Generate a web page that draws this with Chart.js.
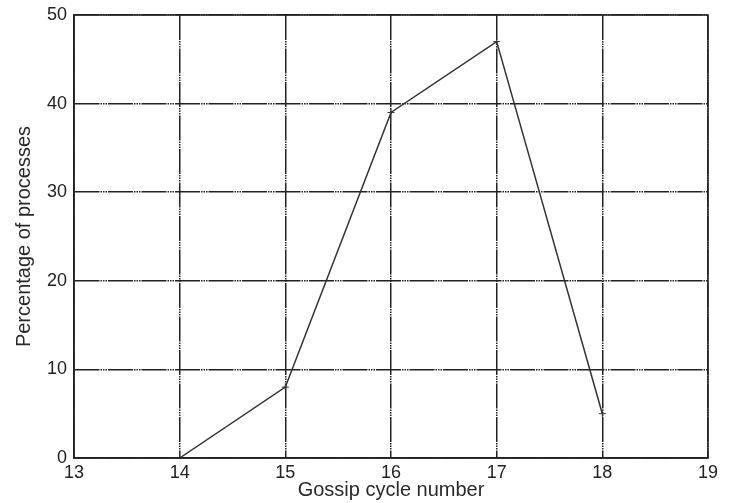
<!DOCTYPE html>
<html>
<head>
<meta charset="utf-8">
<script src="https://cdn.jsdelivr.net/npm/chart.js@4"></script>
<style>
  html, body { margin: 0; padding: 0; background: #fff; }
  #wrap { width: 731px; height: 503px; }
</style>
</head>
<body>
<div id="wrap"><canvas id="chart" width="731" height="503"></canvas></div>
<script>
// Data
const cycles = [14, 15, 16, 17, 18];
const percentages = [0, 8, 39, 47, 5];
const xTicks = [13, 14, 15, 16, 17, 18, 19];
const yTicks = [0, 10, 20, 30, 40, 50];

const inkColor = '#222';
const dashDot = [25, 1, 1.5, 1, 1.5, 1, 1.5, 1];

// Solid frame round the plot area (top and right edges are solid in the original)
const framePlugin = {
    id: 'frame',
    afterDraw(chart) {
        const { ctx, chartArea: a } = chart;
        ctx.save();
        ctx.strokeStyle = inkColor;
        ctx.lineWidth = 1.5;
        ctx.setLineDash([]);
        ctx.strokeRect(a.left, a.top, a.right - a.left, a.bottom - a.top);
        ctx.restore();
    }
};

const ctx = document.getElementById('chart');
new Chart(ctx, {
    type: 'scatter',
    data: {
        datasets: [{
            data: cycles.map((c, i) => ({ x: c, y: percentages[i] })),
            showLine: true,
            borderColor: '#333',
            borderWidth: 1.5,
            pointStyle: 'cross',
            pointRadius: 3.5,
            pointBorderWidth: 1,
            pointBorderColor: '#333',
            tension: 0
        }]
    },
    options: {
        responsive: false,
        animation: false,
        layout: { padding: { top: 15, right: 23, left: 0, bottom: 0 } },
        plugins: { legend: { display: false }, tooltip: { enabled: false } },
        scales: {
            x: {
                type: 'linear',
                min: xTicks[0],
                max: xTicks[xTicks.length - 1],
                afterBuildTicks(scale) { scale.ticks = xTicks.map(v => ({ value: v })); },
                afterFit(scale) {
                    scale.height = 45;
                    scale.paddingLeft = 0;
                    scale.paddingRight = 0;
                },
                grid: { color: inkColor, lineWidth: 1.5, drawTicks: false },
                border: { display: true, color: inkColor, width: 1.5, dash: dashDot },
                ticks: {
                    color: inkColor,
                    padding: 4,
                    maxRotation: 0,
                    font: { family: '"Liberation Sans", Arial, sans-serif', size: 18 }
                },
                title: {
                    display: true,
                    text: 'Gossip cycle number',
                    color: '#2a2a2a',
                    padding: { top: 0, bottom: 1 },
                    font: { family: '"Liberation Sans", Arial, sans-serif', size: 20 }
                }
            },
            y: {
                min: yTicks[0],
                max: yTicks[yTicks.length - 1],
                afterBuildTicks(scale) { scale.ticks = yTicks.map(v => ({ value: v })); },
                afterFit(scale) {
                    scale.width = 74;
                    scale.paddingTop = 0;
                    scale.paddingBottom = 0;
                },
                grid: { color: inkColor, lineWidth: 1.5, drawTicks: false },
                border: { display: true, color: inkColor, width: 1.5, dash: dashDot },
                ticks: {
                    color: inkColor,
                    padding: 7,
                    font: { family: '"Liberation Sans", Arial, sans-serif', size: 18 }
                },
                title: {
                    display: true,
                    text: 'Percentage of processes',
                    color: '#2a2a2a',
                    padding: { top: 12, bottom: 0 },
                    font: { family: '"Liberation Sans", Arial, sans-serif', size: 20 }
                }
            }
        }
    },
    plugins: [framePlugin]
});
</script>
</body>
</html>
